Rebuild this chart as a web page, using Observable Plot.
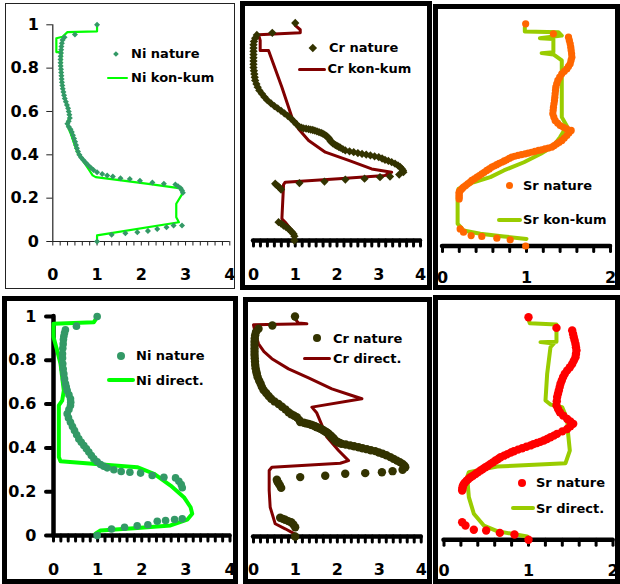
<!DOCTYPE html>
<html><head><meta charset="utf-8">
<script src="https://cdn.jsdelivr.net/npm/d3@7"></script>
<script src="https://cdn.jsdelivr.net/npm/@observablehq/plot@0.6"></script>
<style>
html,body{margin:0;padding:0;background:#fff;}
#chart{position:relative;width:620px;height:584px;overflow:hidden;font-family:"DejaVu Sans",sans-serif;}
#chart svg{position:absolute;}
#chart svg text{font-family:"DejaVu Sans",sans-serif;font-size:16px;font-weight:bold;fill:#000;}
.box{position:absolute;box-sizing:border-box;z-index:5;pointer-events:none;}
.lg{position:absolute;z-index:6;}
.lt{position:absolute;z-index:6;font-family:"DejaVu Sans",sans-serif;font-size:13px;font-weight:bold;line-height:16px;height:16px;white-space:nowrap;color:#000;}
</style></head>
<body><div id="chart"></div>
<script>
// ---------- tick values & labels ----------
const yTicks = [0, 0.2, 0.4, 0.6, 0.8, 1];
const yTickLabels = ["0", "0.2", "0.4", "0.6", "0.8", "1"];
const xTicks4 = [0, 1, 2, 3, 4];
const xTickLabels4 = ["0", "1", "2", "3", "4"];
const xTicks2 = [0, 1, 2];
const xTickLabels2 = ["0", "1", "2"];
const xMinor4 = d3.range(0, 4.0001, 1 / 6);
const xMinor2 = d3.range(0, 2.0001, 0.2);

// ---------- series names ----------
const names = {
  niNature: "Ni nature", niKonKum: "Ni kon-kum", niDirect: "Ni direct.",
  crNature: "Cr nature", crKonKum: "Cr kon-kum", crDirect: "Cr direct.",
  srNature: "Sr nature", srKonKum: "Sr kon-kum", srDirect: "Sr direct."
};

// ---------- data: [value, relative depth] ----------
const niNatureA = [[1.0,1.0],[0.5,0.955],[0.265,0.943],[0.22,0.93],[0.205,0.915],[0.195,0.9],[0.19,0.885],[0.185,0.87],[0.178,0.855],[0.175,0.84],[0.175,0.825],[0.178,0.81],[0.185,0.795],[0.19,0.78],[0.195,0.765],[0.2,0.75],[0.207,0.735],[0.215,0.72],[0.225,0.705],[0.24,0.69],[0.255,0.675],[0.27,0.66],[0.295,0.645],[0.32,0.63],[0.345,0.615],[0.36,0.6],[0.375,0.585],[0.385,0.57],[0.36,0.555],[0.33,0.543],[0.36,0.53],[0.4,0.518],[0.43,0.505],[0.455,0.49],[0.48,0.475],[0.505,0.46],[0.525,0.445],[0.545,0.43],[0.57,0.415],[0.6,0.4],[0.64,0.388],[0.69,0.376],[0.74,0.364],[0.8,0.352],[0.86,0.34],[0.92,0.33],[1.0,0.32],[1.116,0.312],[1.229,0.305],[1.357,0.3],[1.53,0.292],[1.74,0.288],[1.97,0.28],[2.25,0.272],[2.51,0.266],[2.77,0.263],[2.83,0.255],[2.89,0.246],[2.92,0.235],[2.94,0.225],[2.92,0.074],[2.73,0.074],[2.57,0.066],[2.36,0.058],[2.15,0.049],[1.91,0.043],[1.64,0.038],[1.33,0.031],[1.0,0.0]];
const niKonKum = [[1.0,1.0],[1.0,0.97],[0.33,0.966],[0.22,0.945],[0.08,0.938],[0.08,0.874],[0.2,0.874],[0.19,0.84],[0.185,0.8],[0.2,0.75],[0.22,0.71],[0.26,0.67],[0.31,0.63],[0.36,0.6],[0.38,0.575],[0.32,0.545],[0.36,0.52],[0.42,0.49],[0.47,0.46],[0.52,0.43],[0.57,0.405],[0.65,0.38],[0.74,0.355],[0.82,0.33],[0.9,0.305],[0.97,0.297],[1.5,0.283],[2.2,0.265],[2.85,0.246],[2.95,0.228],[2.79,0.174],[2.79,0.112],[2.85,0.089],[1.0,0.028],[1.0,0.0]];

const crNatureA = [[1.0,1.0],[0.45,0.955],[0.08,0.945],[0.04,0.93],[0.01,0.915],[0.0,0.9],[0.0,0.885],[0.0,0.87],[0.0,0.855],[0.0,0.84],[0.0,0.825],[0.0,0.81],[0.0,0.795],[0.01,0.78],[0.02,0.765],[0.03,0.75],[0.04,0.736],[0.07,0.72],[0.1,0.705],[0.14,0.69],[0.2,0.675],[0.26,0.66],[0.33,0.645],[0.42,0.63],[0.5,0.618],[0.58,0.607],[0.66,0.596],[0.74,0.585],[0.82,0.573],[0.9,0.56],[0.97,0.547],[1.03,0.535],[1.1,0.522],[1.15,0.519],[1.2,0.516],[1.26,0.514],[1.32,0.512],[1.37,0.51],[1.42,0.508],[1.47,0.505],[1.52,0.502],[1.57,0.498],[1.62,0.495],[1.66,0.491],[1.7,0.487],[1.735,0.482],[1.77,0.477],[1.8,0.471],[1.82,0.465],[1.845,0.458],[1.87,0.452],[1.9,0.447],[1.94,0.442],[1.97,0.438],[2.0,0.435],[2.04,0.431],[2.08,0.427],[2.14,0.42],[2.2,0.414],[2.3,0.41],[2.4,0.406],[2.5,0.402],[2.6,0.398],[2.7,0.395],[2.8,0.391],[2.9,0.387],[3.0,0.383],[3.08,0.377],[3.15,0.371],[3.23,0.366],[3.31,0.36],[3.39,0.353],[3.46,0.345],[3.51,0.338],[3.55,0.33],[3.58,0.322],[3.59,0.314],[3.49,0.303],[3.27,0.294],[3.03,0.291],[2.66,0.284],[2.2,0.28],[1.7,0.271],[1.1,0.264],[0.52,0.261],[0.55,0.255],[0.6,0.248],[0.64,0.24],[0.66,0.234],[0.6,0.084],[0.66,0.078],[0.72,0.069],[0.78,0.062],[0.84,0.054],[0.88,0.046],[0.92,0.039],[0.96,0.03],[0.98,0.02],[0.98,0.0]];
const crKonKum = [[1.0,0.989],[1.12,0.969],[1.12,0.955],[0.12,0.946],[0.16,0.92],[0.16,0.874],[0.36,0.874],[0.68,0.705],[0.84,0.613],[0.92,0.567],[1.08,0.513],[1.32,0.46],[1.72,0.406],[2.28,0.368],[2.83,0.329],[3.31,0.314],[3.15,0.299],[2.04,0.284],[0.76,0.268],[0.72,0.257],[0.68,0.1],[0.76,0.084],[0.98,0.031],[0.98,0.0]];

const srNatureA = [[0.99,1.0],[1.32,0.955],[1.5,0.94],[1.51,0.925],[1.52,0.91],[1.527,0.895],[1.532,0.88],[1.537,0.865],[1.54,0.85],[1.53,0.835],[1.52,0.82],[1.5,0.808],[1.48,0.797],[1.45,0.786],[1.42,0.775],[1.395,0.76],[1.373,0.745],[1.36,0.73],[1.349,0.715],[1.345,0.7],[1.341,0.685],[1.337,0.67],[1.333,0.655],[1.327,0.64],[1.321,0.625],[1.317,0.61],[1.313,0.595],[1.325,0.58],[1.341,0.565],[1.37,0.553],[1.401,0.542],[1.44,0.534],[1.48,0.527],[1.532,0.52],[1.505,0.508],[1.48,0.497],[1.45,0.486],[1.421,0.475],[1.39,0.467],[1.36,0.46],[1.33,0.452],[1.302,0.445],[1.26,0.441],[1.22,0.437],[1.18,0.433],[1.143,0.43],[1.1,0.426],[1.06,0.422],[1.02,0.418],[0.984,0.415],[0.94,0.411],[0.9,0.408],[0.86,0.404],[0.825,0.4],[0.795,0.394],[0.765,0.388],[0.735,0.383],[0.706,0.377],[0.675,0.372],[0.645,0.366],[0.615,0.36],[0.587,0.355],[0.557,0.347],[0.527,0.34],[0.497,0.332],[0.468,0.325],[0.439,0.317],[0.41,0.31],[0.38,0.302],[0.349,0.295],[0.325,0.287],[0.3,0.28],[0.275,0.272],[0.25,0.265],[0.235,0.259],[0.22,0.253],[0.205,0.247],[0.198,0.242],[0.198,0.235],[0.198,0.227],[0.198,0.22],[0.198,0.212],[0.21,0.077],[0.25,0.062],[0.341,0.047],[0.468,0.043],[0.647,0.035],[0.806,0.028],[0.99,0.0]];
const srKonKum = [[0.98,0.985],[0.98,0.965],[1.38,0.962],[1.42,0.947],[1.16,0.935],[1.32,0.932],[1.32,0.872],[1.18,0.868],[1.32,0.862],[1.42,0.835],[1.42,0.58],[1.48,0.54],[1.4,0.49],[1.32,0.45],[1.17,0.415],[0.97,0.377],[0.73,0.34],[0.57,0.31],[0.37,0.287],[0.19,0.257],[0.18,0.205],[0.18,0.1],[0.25,0.07],[0.45,0.055],[0.73,0.043],[1.0,0.032]];

const niNatureB = [[0.99,1.0],[0.52,0.956],[0.27,0.939],[0.25,0.925],[0.234,0.91],[0.225,0.895],[0.219,0.875],[0.21,0.855],[0.204,0.83],[0.205,0.81],[0.21,0.784],[0.22,0.76],[0.234,0.738],[0.25,0.715],[0.272,0.693],[0.29,0.678],[0.31,0.662],[0.35,0.643],[0.385,0.624],[0.39,0.609],[0.385,0.594],[0.35,0.575],[0.31,0.556],[0.34,0.537],[0.385,0.517],[0.43,0.498],[0.476,0.479],[0.525,0.46],[0.574,0.441],[0.63,0.426],[0.688,0.411],[0.745,0.396],[0.801,0.381],[0.858,0.365],[0.915,0.35],[0.99,0.337],[1.066,0.324],[1.14,0.316],[1.217,0.309],[1.368,0.3],[1.534,0.292],[1.731,0.289],[1.973,0.285],[2.237,0.274],[2.502,0.266],[2.766,0.263],[2.842,0.248],[2.895,0.233],[2.918,0.218],[2.918,0.076],[2.744,0.073],[2.54,0.068],[2.351,0.065],[2.139,0.049],[1.897,0.044],[1.61,0.038],[1.315,0.03],[0.99,0.0]];
const niDirect = [[0.99,0.997],[0.915,0.974],[0.0,0.967],[0.0,0.906],[0.083,0.845],[0.159,0.784],[0.197,0.723],[0.234,0.662],[0.197,0.616],[0.121,0.594],[0.121,0.358],[0.159,0.339],[1.897,0.312],[2.275,0.282],[2.653,0.228],[2.955,0.175],[3.107,0.129],[3.144,0.099],[3.031,0.072],[2.653,0.046],[1.822,0.033],[1.066,0.023],[0.952,0.008]];

const crNatureB = [[0.99,1.0],[0.45,0.959],[0.12,0.944],[0.06,0.93],[0.04,0.915],[0.03,0.9],[0.025,0.885],[0.025,0.87],[0.025,0.855],[0.025,0.84],[0.025,0.825],[0.03,0.81],[0.035,0.795],[0.04,0.78],[0.05,0.765],[0.065,0.75],[0.08,0.739],[0.1,0.724],[0.135,0.708],[0.17,0.694],[0.2,0.68],[0.239,0.666],[0.3,0.652],[0.36,0.639],[0.42,0.626],[0.5,0.614],[0.597,0.602],[0.68,0.59],[0.76,0.578],[0.835,0.565],[0.9,0.556],[0.97,0.549],[1.034,0.542],[1.09,0.53],[1.114,0.52],[1.2,0.517],[1.26,0.514],[1.313,0.512],[1.37,0.508],[1.42,0.505],[1.47,0.501],[1.511,0.497],[1.56,0.493],[1.6,0.49],[1.64,0.486],[1.671,0.482],[1.71,0.478],[1.74,0.474],[1.77,0.47],[1.79,0.467],[1.83,0.46],[1.85,0.456],[1.869,0.452],[1.9,0.448],[1.92,0.443],[1.94,0.438],[1.965,0.433],[2.0,0.43],[2.03,0.427],[2.07,0.424],[2.108,0.421],[2.2,0.418],[2.307,0.414],[2.4,0.41],[2.506,0.406],[2.6,0.401],[2.705,0.397],[2.8,0.392],[2.904,0.388],[2.99,0.382],[3.079,0.376],[3.17,0.369],[3.262,0.361],[3.34,0.353],[3.421,0.345],[3.49,0.338],[3.556,0.33],[3.6,0.322],[3.62,0.315],[3.556,0.303],[3.317,0.297],[3.063,0.292],[2.665,0.288],[2.188,0.285],[1.711,0.276],[1.114,0.27],[0.557,0.258],[0.57,0.25],[0.597,0.242],[0.63,0.232],[0.66,0.221],[0.636,0.085],[0.7,0.08],[0.756,0.076],[0.83,0.07],[0.899,0.065],[0.95,0.055],[0.994,0.042],[0.994,0.0]];
const crDirect = [[0.99,0.99],[1.074,0.97],[1.273,0.967],[0.0,0.962],[0.05,0.92],[0.119,0.876],[0.25,0.84],[0.438,0.808],[0.835,0.762],[1.313,0.721],[1.869,0.671],[2.347,0.641],[2.586,0.626],[1.392,0.588],[1.511,0.561],[1.75,0.452],[2.029,0.391],[2.267,0.345],[2.068,0.333],[0.438,0.315],[0.374,0.3],[0.374,0.209],[0.398,0.133],[0.517,0.058],[0.756,0.035],[0.979,0.012]];

const srNatureB = [[1.0,1.0],[1.331,0.952],[1.517,0.94],[1.527,0.925],[1.536,0.91],[1.546,0.895],[1.556,0.88],[1.562,0.865],[1.568,0.85],[1.562,0.835],[1.556,0.82],[1.537,0.805],[1.517,0.79],[1.49,0.775],[1.458,0.761],[1.43,0.746],[1.41,0.731],[1.394,0.716],[1.379,0.701],[1.369,0.686],[1.359,0.671],[1.349,0.656],[1.339,0.641],[1.335,0.622],[1.331,0.603],[1.35,0.588],[1.371,0.573],[1.41,0.558],[1.458,0.543],[1.495,0.532],[1.529,0.521],[1.495,0.51],[1.458,0.498],[1.4,0.487],[1.339,0.476],[1.3,0.468],[1.26,0.461],[1.22,0.453],[1.181,0.446],[1.14,0.44],[1.1,0.435],[1.06,0.43],[1.024,0.424],[0.975,0.418],[0.925,0.411],[0.875,0.405],[0.826,0.398],[0.79,0.392],[0.75,0.385],[0.71,0.378],[0.669,0.371],[0.64,0.363],[0.61,0.356],[0.58,0.348],[0.55,0.341],[0.52,0.333],[0.49,0.326],[0.46,0.318],[0.432,0.311],[0.4,0.303],[0.373,0.296],[0.343,0.288],[0.314,0.281],[0.29,0.273],[0.27,0.266],[0.25,0.258],[0.235,0.251],[0.225,0.243],[0.22,0.236],[0.217,0.228],[0.215,0.221],[0.215,0.079],[0.254,0.064],[0.353,0.045],[0.499,0.042],[0.661,0.031],[0.834,0.024],[1.0,0.0]];
const srDirect = [[0.996,0.993],[1.016,0.973],[1.331,0.967],[1.331,0.89],[1.142,0.888],[1.3,0.882],[1.26,0.865],[1.221,0.746],[1.201,0.626],[1.26,0.608],[1.398,0.596],[1.458,0.543],[1.465,0.491],[1.489,0.401],[1.438,0.344],[0.629,0.329],[0.294,0.304],[0.274,0.281],[0.294,0.192],[0.353,0.117],[0.471,0.064],[0.629,0.039],[0.984,0.015]];

// ---------- colours ----------
const cNi = "#339966", cNiLine = "#00ff00", cCr = "#333300", cCrLine = "#800000";
const cSrA = "#ff6600", cSrB = "#ff0000", cSrLine = "#99cc00";

const chart = document.getElementById("chart");
const X = d => d[0], Y = d => d[1];

function labelAxis(ticks, labels, pad) {
  return Plot.axisX({ticks, tickSize: 0, tickPadding: pad, tickFormat: d => labels[ticks.indexOf(d)], label: null});
}
function ruler(minor) {
  return [
    Plot.ruleY([0], {stroke: "#000", strokeWidth: 4.5, strokeLinecap: "round"}),
    Plot.axisX({ticks: minor, tickSize: 6, strokeWidth: 3, strokeLinecap: "round", fill: "none", label: null})
  ];
}
function addPlot(p, xMax, showY, marks) {
  const svg = Plot.plot({
    width: p.w, height: p.h,
    marginLeft: p.ml, marginRight: p.mr, marginTop: p.mt, marginBottom: p.mb,
    x: {domain: [0, xMax]},
    y: showY ? {domain: [0, 1]} : {domain: [0, 1], axis: null},
    style: {background: "transparent", overflow: "visible"},
    marks
  });
  svg.style.left = p.left + "px";
  svg.style.top = p.top + "px";
  chart.appendChild(svg);
}
function box(l, t, w, h, b, c) {
  const d = document.createElement("div");
  d.className = "box";
  Object.assign(d.style, {left: l + "px", top: t + "px", width: w + "px", height: h + "px", border: b + "px solid " + c});
  chart.appendChild(d);
}
function legMarker(cx, cy, size, color, diamond) {
  const d = document.createElement("div");
  d.className = "lg";
  const s = diamond ? size / Math.SQRT2 : size;
  Object.assign(d.style, {left: (cx - s / 2) + "px", top: (cy - s / 2) + "px", width: s + "px", height: s + "px",
    background: color, borderRadius: diamond ? "0" : "50%", transform: diamond ? "rotate(45deg)" : "none"});
  chart.appendChild(d);
}
function legLine(x1, x2, cy, w, color) {
  const d = document.createElement("div");
  d.className = "lg";
  Object.assign(d.style, {left: x1 + "px", top: (cy - w / 2) + "px", width: (x2 - x1) + "px", height: w + "px",
    background: color, borderRadius: (w / 2) + "px"});
  chart.appendChild(d);
}
function legText(x, cy, t) {
  const d = document.createElement("div");
  d.className = "lt";
  d.textContent = t;
  Object.assign(d.style, {left: x + "px", top: (cy - 8) + "px"});
  chart.appendChild(d);
}

// ---------- top-left: Ni kon-kum ----------
addPlot({left: 5, top: 3, w: 230, h: 286, ml: 47.3, mr: 5.7, mt: 21.3, mb: 48}, 4, true, [
  Plot.ruleX([0], {stroke: "#222", strokeWidth: 1.2}),
  Plot.ruleY([0], {stroke: "#222", strokeWidth: 1.2}),
  Plot.axisY({ticks: yTicks, tickSize: 6, tickPadding: 8, stroke: "#222", tickFormat: d => yTickLabels[yTicks.indexOf(d)], label: null}),
  Plot.axisX({ticks: xMinor4, tickSize: 4.5, stroke: "#222", fill: "none", label: null}),
  labelAxis(xTicks4, xTickLabels4, 27.5),
  Plot.line(niKonKum, {x: X, y: Y, stroke: cNiLine, strokeWidth: 2.2}),
  Plot.dot(niNatureA, {x: X, y: Y, fill: cNi, symbol: "square", rotate: 45, r: 2.4})
]);
// ---------- top-middle: Cr kon-kum ----------
addPlot({left: 240, top: 1, w: 192, h: 289, ml: 13, mr: 12, mt: 21.5, mb: 50}, 4, false, [
  ...ruler(xMinor4),
  labelAxis(xTicks4, xTickLabels4, 27.8),
  Plot.line(crKonKum, {x: X, y: Y, stroke: cCrLine, strokeWidth: 3}),
  Plot.dot(crNatureA, {x: X, y: Y, fill: cCr, symbol: "square", rotate: 45, r: 3.3})
]);
// ---------- top-right: Sr kon-kum ----------
addPlot({left: 433, top: 4, w: 187, h: 286, ml: 9, mr: 10, mt: 19.3, mb: 44.5}, 2, false, [
  ...ruler(xMinor2),
  labelAxis(xTicks2, xTickLabels2, 25.7),
  Plot.line(srKonKum, {x: X, y: Y, stroke: cSrLine, strokeWidth: 4}),
  Plot.dot(srNatureA, {x: X, y: Y, fill: cSrA, r: 3.6})
]);
// ---------- bottom-left: Ni direct ----------
addPlot({left: 2, top: 296, w: 236, h: 288, ml: 51, mr: 8.5, mt: 20, mb: 49}, 4, true, [
  Plot.ruleX([0], {stroke: "#000", strokeWidth: 4.5, strokeLinecap: "round"}),
  Plot.axisY({ticks: yTicks, tickSize: 7, tickPadding: 10, strokeWidth: 4, strokeLinecap: "round", tickFormat: d => yTickLabels[yTicks.indexOf(d)], label: null}),
  ...ruler(xMinor4),
  labelAxis(xTicks4, xTickLabels4, 27.8),
  Plot.line(niDirect, {x: X, y: Y, stroke: cNiLine, strokeWidth: 4}),
  Plot.dot(niNatureB, {x: X, y: Y, fill: cNi, r: 3.8})
]);
// ---------- bottom-middle: Cr direct ----------
addPlot({left: 243, top: 297, w: 189, h: 287, ml: 10, mr: 11.3, mt: 19, mb: 48}, 4, false, [
  ...ruler(xMinor4),
  labelAxis(xTicks4, xTickLabels4, 26.8),
  Plot.line(crDirect, {x: X, y: Y, stroke: cCrLine, strokeWidth: 3}),
  Plot.dot(crNatureB, {x: X, y: Y, fill: cCr, r: 4.2})
]);
// ---------- bottom-right: Sr direct ----------
addPlot({left: 433, top: 295, w: 187, h: 289, ml: 10.5, mr: 7.5, mt: 21.7, mb: 44.7}, 2, false, [
  ...ruler(xMinor2),
  labelAxis(xTicks2, xTickLabels2, 25.2),
  Plot.line(srDirect, {x: X, y: Y, stroke: cSrLine, strokeWidth: 4}),
  Plot.dot(srNatureB, {x: X, y: Y, fill: cSrB, r: 4.2})
]);

// ---------- panel frames ----------
box(5, 3, 230, 286, 1, "#222");
box(240, 1, 192, 289, 5, "#000");
box(433, 4, 187, 286, 5, "#000");
box(2, 296, 236, 288, 5, "#000");
box(243, 297, 189, 287, 5, "#000");
box(433, 295, 187, 289, 5, "#000");

// ---------- legends ----------
legMarker(116, 53.5, 5.5, cNi, true);  legText(131, 54, names.niNature);
legLine(107, 128, 78, 2.2, cNiLine);   legText(131, 78, names.niKonKum);
legMarker(313, 47.7, 8, cCr, true);    legText(329, 48, names.crNature);
legLine(298, 326, 69, 3, cCrLine);     legText(327.5, 69, names.crKonKum);
legMarker(509, 185, 7, cSrA, false);   legText(523, 186, names.srNature);
legLine(497, 522, 220, 4, cSrLine);    legText(523, 220, names.srKonKum);
legMarker(121, 355.7, 8, cNi, false);  legText(136, 356, names.niNature);
legLine(107, 135, 380, 4, cNiLine);    legText(136, 381, names.niDirect);
legMarker(317, 338.3, 8, cCr, false);  legText(333, 338.5, names.crNature);
legLine(303, 331, 358.3, 3, cCrLine);  legText(333, 358.7, names.crDirect);
legMarker(521.7, 482.7, 8, cSrB, false); legText(536, 483.3, names.srNature);
legLine(511, 535, 508.3, 4, cSrLine);  legText(536, 508.7, names.srDirect);
</script>
</body></html>
